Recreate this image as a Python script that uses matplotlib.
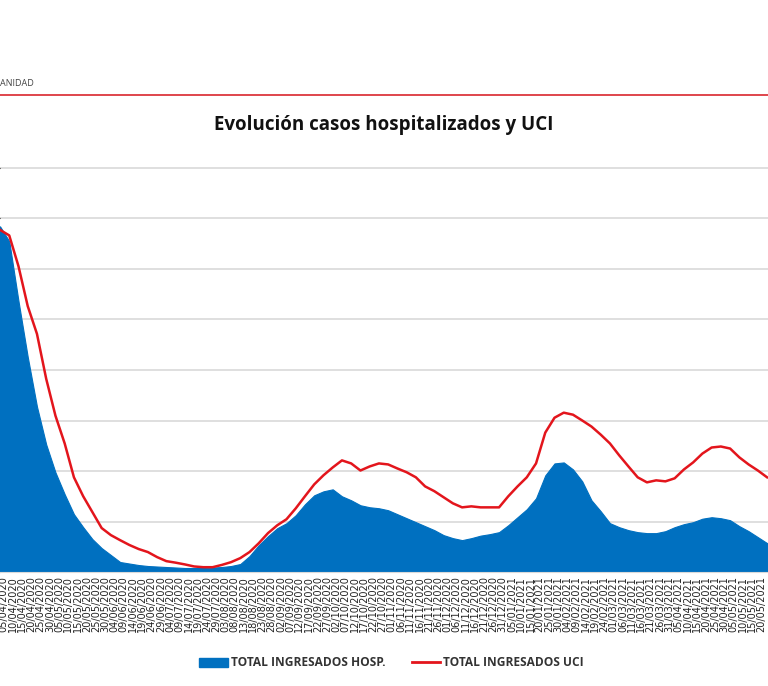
import matplotlib
matplotlib.use("Agg")
import matplotlib.pyplot as plt
import pandas as pd
from matplotlib.lines import Line2D
from matplotlib.patches import Patch

# fechas cada 5 dias, desde el 03/04/2020
dates = pd.date_range("2020-04-03", periods=84, freq="5D")

hosp = [13690, 13100, 10730, 8520, 6550, 5050, 3945, 3077, 2288, 1775,
        1302, 947, 671, 395, 335, 276, 237, 217, 197, 178,
        158, 158, 158, 178, 197, 237, 316, 631, 1065, 1420,
        1736, 1933, 2249, 2683, 3038, 3195, 3274, 2998, 2840, 2643,
        2564, 2525, 2446, 2288, 2130, 1973, 1815, 1657, 1460, 1341,
        1262, 1341, 1440, 1499, 1578, 1854, 2170, 2485, 2919, 3827,
        4300, 4340, 4063, 3590, 2840, 2406, 1933, 1775, 1657, 1578,
        1539, 1539, 1617, 1775, 1894, 1973, 2111, 2170, 2130, 2051,
        1815, 1617, 1381, 1144]

uci = [1355, 1333, 1211, 1053, 943, 765, 619, 509, 375, 300,
       237, 174, 146, 126, 107, 91, 79, 59, 43, 37,
       30, 22, 19, 19, 28, 39, 55, 79, 114, 154,
       185, 209, 252, 300, 347, 383, 414, 442, 430, 402,
       418, 430, 426, 410, 395, 375, 339, 320, 296, 272,
       256, 260, 256, 256, 256, 300, 339, 375, 430, 552,
       611, 631, 623, 600, 576, 544, 509, 462, 418, 375,
       355, 363, 359, 371, 406, 434, 469, 493, 497, 489,
       454, 426, 402, 375]

tick_dates = pd.date_range("2020-04-05", "2021-05-20", freq="5D")

BLUE = "#0070C0"
RED = "#E3151C"

fig = plt.figure(figsize=(7.68, 6.86), dpi=100)
ax = fig.add_axes([0.0, 1 - 572 / 686, 1.0, (572 - 168) / 686])

ax.fill_between(dates, hosp, 0, color=BLUE, linewidth=0.8, edgecolor=BLUE)
ax.set_ylim(0, 16000)
ax.set_yticks(range(0, 16001, 2000))
ax.yaxis.grid(True, color="#d9d9d9", linewidth=1.2)
for gl in ax.get_ygridlines():
    gl.set_clip_on(False)
ax.set_axisbelow(True)
ax.tick_params(axis="y", left=False, labelleft=False)

ax2 = ax.twinx()
ax2.plot(dates, uci, color=RED, linewidth=1.8)
ax2.set_ylim(0, 1600)
ax2.tick_params(axis="y", right=False, labelright=False)

ax.set_xlim(pd.Timestamp("2020-04-03"), pd.Timestamp("2021-05-23 12:00"))
ax.set_xticks(tick_dates)
ax.set_xticklabels([d.strftime("%d/%m/%Y") for d in tick_dates],
                   rotation=90, fontsize=7, color="#222222")
ax.tick_params(axis="x", length=0, pad=3)

for a in (ax, ax2):
    for side in ("top", "left", "right"):
        a.spines[side].set_visible(False)
ax.spines["bottom"].set_color("#d9d9d9")
ax2.spines["bottom"].set_visible(False)

fig.text(0.5, 1 - 125 / 686, "Evolución casos hospitalizados y UCI",
         ha="center", va="center", fontsize=13.5, fontweight="bold",
         family="Open Sans", color="#111111")
fig.text(0.0, 1 - 83 / 686, "ANIDAD", ha="left", va="center",
         fontsize=6.5, family="Open Sans", color="#444444")
fig.add_artist(Line2D([0, 1], [1 - 95 / 686] * 2, transform=fig.transFigure,
                      color="#D9262E", linewidth=1.2))

handles = [Patch(facecolor=BLUE, edgecolor=BLUE),
           Line2D([], [], color=RED, linewidth=2)]
leg = fig.legend(handles, ["TOTAL INGRESADOS HOSP.", "TOTAL INGRESADOS UCI"],
                 loc="center", bbox_to_anchor=(0.51, 1 - 663 / 686), ncol=2,
                 frameon=False, handlelength=2.4, handletextpad=0.25,
                 columnspacing=2.2, prop={"family": "Open Sans",
                                          "weight": "bold", "size": 8.6})
for t in leg.get_texts():
    t.set_color("#333333")

fig.savefig("out.png", dpi=100)
plt.close(fig)
